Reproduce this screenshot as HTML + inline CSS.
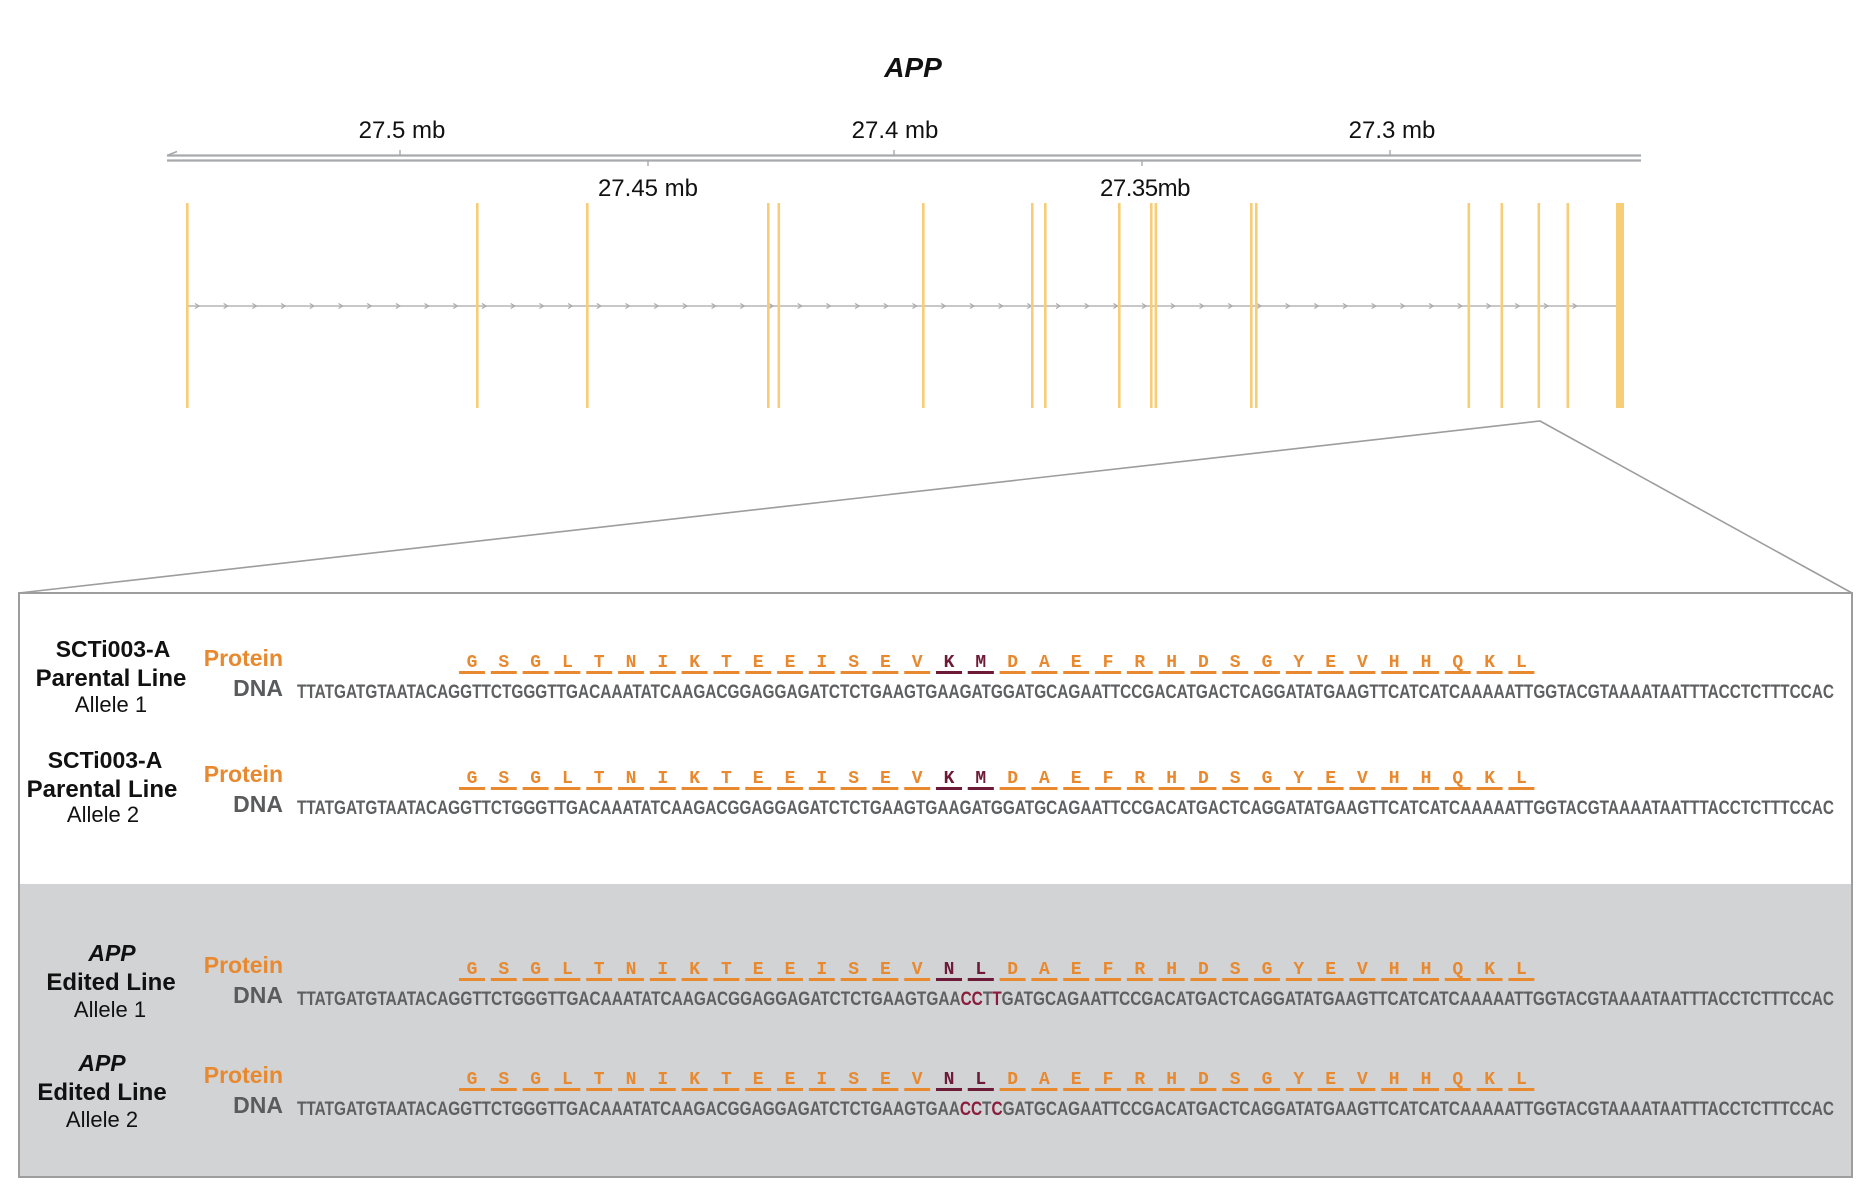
<!DOCTYPE html>
<html>
<head>
<meta charset="utf-8">
<style>
  html, body { margin: 0; padding: 0; background: #ffffff; }
  body { width: 1870px; height: 1200px; overflow: hidden; }
  svg { display: block; }
  .lbl { font-family: "Liberation Sans", sans-serif; fill: #111; }
  .tick { font-family: "Liberation Sans", sans-serif; font-size: 24px; fill: #111; text-anchor: middle; }
  .prot { font-family: "Liberation Sans", sans-serif; font-weight: bold; font-size: 23px; fill: #e8892f; text-anchor: end; }
  .dnal { font-family: "Liberation Sans", sans-serif; font-weight: bold; font-size: 23px; fill: #5a5b5d; text-anchor: end; }
  .aa { font-family: "Liberation Mono", monospace; font-weight: bold; font-size: 18px; fill: #e8892f; text-anchor: middle; }
  .aam { font-family: "Liberation Mono", monospace; font-weight: bold; font-size: 18px; fill: #6d1a36; text-anchor: middle; }
  .seq { font-family: "Liberation Sans", sans-serif; font-weight: bold; font-size: 19.5px; fill: #5e5f61; }
  .red { fill: #8a1c3c; }
</style>
</head>
<body>
<svg width="1870" height="1200" viewBox="0 0 1870 1200" xmlns="http://www.w3.org/2000/svg">
  <defs>
    <pattern id="chev" patternUnits="userSpaceOnUse" x="193" y="300" width="28.7" height="12">
      <polyline points="2,3.5 6,6 2,8.5" fill="none" stroke="#a9a9a9" stroke-width="1.2"/>
    </pattern>
    <pattern id="ul" patternUnits="userSpaceOnUse" x="456.1" y="0" width="31.8" height="10">
      <rect x="2.9" y="0" width="26" height="10" fill="#e8892f"/>
    </pattern>
  </defs>

  <!-- Title -->
  <text x="913" y="77" text-anchor="middle" font-family="Liberation Sans, sans-serif" font-weight="bold" font-style="italic" font-size="28" fill="#111">APP</text>

  <!-- Axis -->
  <line x1="167" y1="155.5" x2="1641" y2="155.5" stroke="#a7a9ac" stroke-width="2.2"/>
  <line x1="167" y1="160.5" x2="1641" y2="160.5" stroke="#a7a9ac" stroke-width="2.2"/>
  <polyline points="177,151.5 167,155.5" fill="none" stroke="#a7a9ac" stroke-width="1.6"/>
  <line x1="400" y1="150" x2="400" y2="155" stroke="#a7a9ac" stroke-width="1.4"/>
  <line x1="894" y1="150" x2="894" y2="155" stroke="#a7a9ac" stroke-width="1.4"/>
  <line x1="1390" y1="150" x2="1390" y2="155" stroke="#a7a9ac" stroke-width="1.4"/>
  <line x1="648" y1="161" x2="648" y2="166" stroke="#a7a9ac" stroke-width="1.4"/>
  <line x1="1142" y1="161" x2="1142" y2="166" stroke="#a7a9ac" stroke-width="1.4"/>
  <text class="tick" x="402" y="138">27.5 mb</text>
  <text class="tick" x="895" y="138">27.4 mb</text>
  <text class="tick" x="1392" y="138">27.3 mb</text>
  <text class="tick" x="648" y="196">27.45 mb</text>
  <text class="tick" x="1145" y="196" letter-spacing="-0.5">27.35mb</text>

  <!-- Intron line with chevrons -->
  <line x1="188" y1="306" x2="1617" y2="306" stroke="#b5b5b5" stroke-width="1.6"/>
  <rect x="190" y="300" width="1405" height="12" fill="url(#chev)"/>

  <!-- Exons -->
  <g fill="#f8cd78">
    <rect x="186" y="203" width="2.6" height="205"/>
    <rect x="476" y="203" width="2.6" height="205"/>
    <rect x="586" y="203" width="2.6" height="205"/>
    <rect x="767" y="203" width="2.6" height="205"/>
    <rect x="777.5" y="203" width="2.6" height="205"/>
    <rect x="922" y="203" width="2.6" height="205"/>
    <rect x="1031" y="203" width="2.6" height="205"/>
    <rect x="1044" y="203" width="2.6" height="205"/>
    <rect x="1118" y="203" width="2.6" height="205"/>
    <rect x="1150" y="203" width="2.6" height="205"/>
    <rect x="1154.5" y="203" width="2.6" height="205"/>
    <rect x="1250" y="203" width="2.6" height="205"/>
    <rect x="1255" y="203" width="2.6" height="205"/>
    <rect x="1467.5" y="203" width="2.6" height="205"/>
    <rect x="1500.5" y="203" width="2.6" height="205"/>
    <rect x="1537.5" y="203" width="2.6" height="205"/>
    <rect x="1566.5" y="203" width="2.6" height="205"/>
    <rect x="1616" y="203" width="8" height="205"/>
  </g>

  <!-- Zoom lines -->
  <polyline points="19,593 1540,421 1852,593" fill="none" stroke="#9d9d9d" stroke-width="1.6"/>

  <!-- Box -->
  <rect x="19" y="593" width="1833" height="584" fill="#ffffff"/>
  <rect x="20" y="884" width="1831" height="292" fill="#d1d3d4"/>
  <rect x="19" y="593" width="1833" height="584" fill="none" stroke="#9d9d9d" stroke-width="2"/>

  <!-- Left labels -->
  <g class="lbl" text-anchor="middle">
    <text x="113" y="657" font-weight="bold" font-size="23">SCTi003-A</text>
    <text x="111" y="686" font-weight="bold" font-size="24">Parental Line</text>
    <text x="111" y="712" font-size="22">Allele 1</text>

    <text x="105" y="768" font-weight="bold" font-size="23">SCTi003-A</text>
    <text x="102" y="797" font-weight="bold" font-size="24">Parental Line</text>
    <text x="103" y="822" font-size="22">Allele 2</text>

    <text x="112" y="961" font-weight="bold" font-style="italic" font-size="23">APP</text>
    <text x="111" y="990" font-weight="bold" font-size="24">Edited Line</text>
    <text x="110" y="1017" font-size="22">Allele 1</text>

    <text x="102" y="1071" font-weight="bold" font-style="italic" font-size="23">APP</text>
    <text x="102" y="1100" font-weight="bold" font-size="24">Edited Line</text>
    <text x="102" y="1127" font-size="22">Allele 2</text>
  </g>

  <!-- Row 1 -->
  <g transform="translate(0,0)">
    <text class="prot" x="283" y="666">Protein</text>
    <text class="dnal" x="283" y="696">DNA</text>
    <rect x="456.1" y="671" width="1081.2" height="3" fill="url(#ul)"/>
    <rect x="936" y="671" width="26" height="3" fill="#6d1a36"/>
    <rect x="967.8" y="671" width="26" height="3" fill="#6d1a36"/>
    <text class="aa" y="667" x="472 503.8 535.6 567.4 599.2 631 662.8 694.6 726.4 758.2 790 821.8 853.6 885.4 917.2">GSGLTNIKTEEISEV</text>
    <text class="aam" y="667" x="949 980.8">KM</text>
    <text class="aa" y="667" x="1012.6 1044.4 1076.2 1108 1139.8 1171.6 1203.4 1235.2 1267 1298.8 1330.6 1362.4 1394.2 1426 1457.8 1489.6 1521.4">DAEFRHDSGYEVHHQKL</text>
    <text class="seq" x="297" y="698" textLength="1537" lengthAdjust="spacingAndGlyphs">TTATGATGTAATACAGGTTCTGGGTTGACAAATATCAAGACGGAGGAGATCTCTGAAGTGAAGATGGATGCAGAATTCCGACATGACTCAGGATATGAAGTTCATCATCAAAAATTGGTACGTAAAATAATTTACCTCTTTCCAC</text>
  </g>

  <!-- Row 2 -->
  <g transform="translate(0,116)">
    <text class="prot" x="283" y="666">Protein</text>
    <text class="dnal" x="283" y="696">DNA</text>
    <rect x="456.1" y="671" width="1081.2" height="3" fill="url(#ul)"/>
    <rect x="936" y="671" width="26" height="3" fill="#6d1a36"/>
    <rect x="967.8" y="671" width="26" height="3" fill="#6d1a36"/>
    <text class="aa" y="667" x="472 503.8 535.6 567.4 599.2 631 662.8 694.6 726.4 758.2 790 821.8 853.6 885.4 917.2">GSGLTNIKTEEISEV</text>
    <text class="aam" y="667" x="949 980.8">KM</text>
    <text class="aa" y="667" x="1012.6 1044.4 1076.2 1108 1139.8 1171.6 1203.4 1235.2 1267 1298.8 1330.6 1362.4 1394.2 1426 1457.8 1489.6 1521.4">DAEFRHDSGYEVHHQKL</text>
    <text class="seq" x="297" y="698" textLength="1537" lengthAdjust="spacingAndGlyphs">TTATGATGTAATACAGGTTCTGGGTTGACAAATATCAAGACGGAGGAGATCTCTGAAGTGAAGATGGATGCAGAATTCCGACATGACTCAGGATATGAAGTTCATCATCAAAAATTGGTACGTAAAATAATTTACCTCTTTCCAC</text>
  </g>

  <!-- Row 3 -->
  <g transform="translate(0,307)">
    <text class="prot" x="283" y="666">Protein</text>
    <text class="dnal" x="283" y="696">DNA</text>
    <rect x="456.1" y="671" width="1081.2" height="3" fill="url(#ul)"/>
    <rect x="936" y="671" width="26" height="3" fill="#6d1a36"/>
    <rect x="967.8" y="671" width="26" height="3" fill="#6d1a36"/>
    <text class="aa" y="667" x="472 503.8 535.6 567.4 599.2 631 662.8 694.6 726.4 758.2 790 821.8 853.6 885.4 917.2">GSGLTNIKTEEISEV</text>
    <text class="aam" y="667" x="949 980.8">NL</text>
    <text class="aa" y="667" x="1012.6 1044.4 1076.2 1108 1139.8 1171.6 1203.4 1235.2 1267 1298.8 1330.6 1362.4 1394.2 1426 1457.8 1489.6 1521.4">DAEFRHDSGYEVHHQKL</text>
    <text class="seq" x="297" y="698" textLength="1537" lengthAdjust="spacingAndGlyphs">TTATGATGTAATACAGGTTCTGGGTTGACAAATATCAAGACGGAGGAGATCTCTGAAGTGAA<tspan class="red">CC</tspan>T<tspan class="red">T</tspan>GATGCAGAATTCCGACATGACTCAGGATATGAAGTTCATCATCAAAAATTGGTACGTAAAATAATTTACCTCTTTCCAC</text>
  </g>

  <!-- Row 4 -->
  <g transform="translate(0,417)">
    <text class="prot" x="283" y="666">Protein</text>
    <text class="dnal" x="283" y="696">DNA</text>
    <rect x="456.1" y="671" width="1081.2" height="3" fill="url(#ul)"/>
    <rect x="936" y="671" width="26" height="3" fill="#6d1a36"/>
    <rect x="967.8" y="671" width="26" height="3" fill="#6d1a36"/>
    <text class="aa" y="667" x="472 503.8 535.6 567.4 599.2 631 662.8 694.6 726.4 758.2 790 821.8 853.6 885.4 917.2">GSGLTNIKTEEISEV</text>
    <text class="aam" y="667" x="949 980.8">NL</text>
    <text class="aa" y="667" x="1012.6 1044.4 1076.2 1108 1139.8 1171.6 1203.4 1235.2 1267 1298.8 1330.6 1362.4 1394.2 1426 1457.8 1489.6 1521.4">DAEFRHDSGYEVHHQKL</text>
    <text class="seq" x="297" y="698" textLength="1537" lengthAdjust="spacingAndGlyphs">TTATGATGTAATACAGGTTCTGGGTTGACAAATATCAAGACGGAGGAGATCTCTGAAGTGAA<tspan class="red">CC</tspan>T<tspan class="red">C</tspan>GATGCAGAATTCCGACATGACTCAGGATATGAAGTTCATCATCAAAAATTGGTACGTAAAATAATTTACCTCTTTCCAC</text>
  </g>
</svg>
</body>
</html>
